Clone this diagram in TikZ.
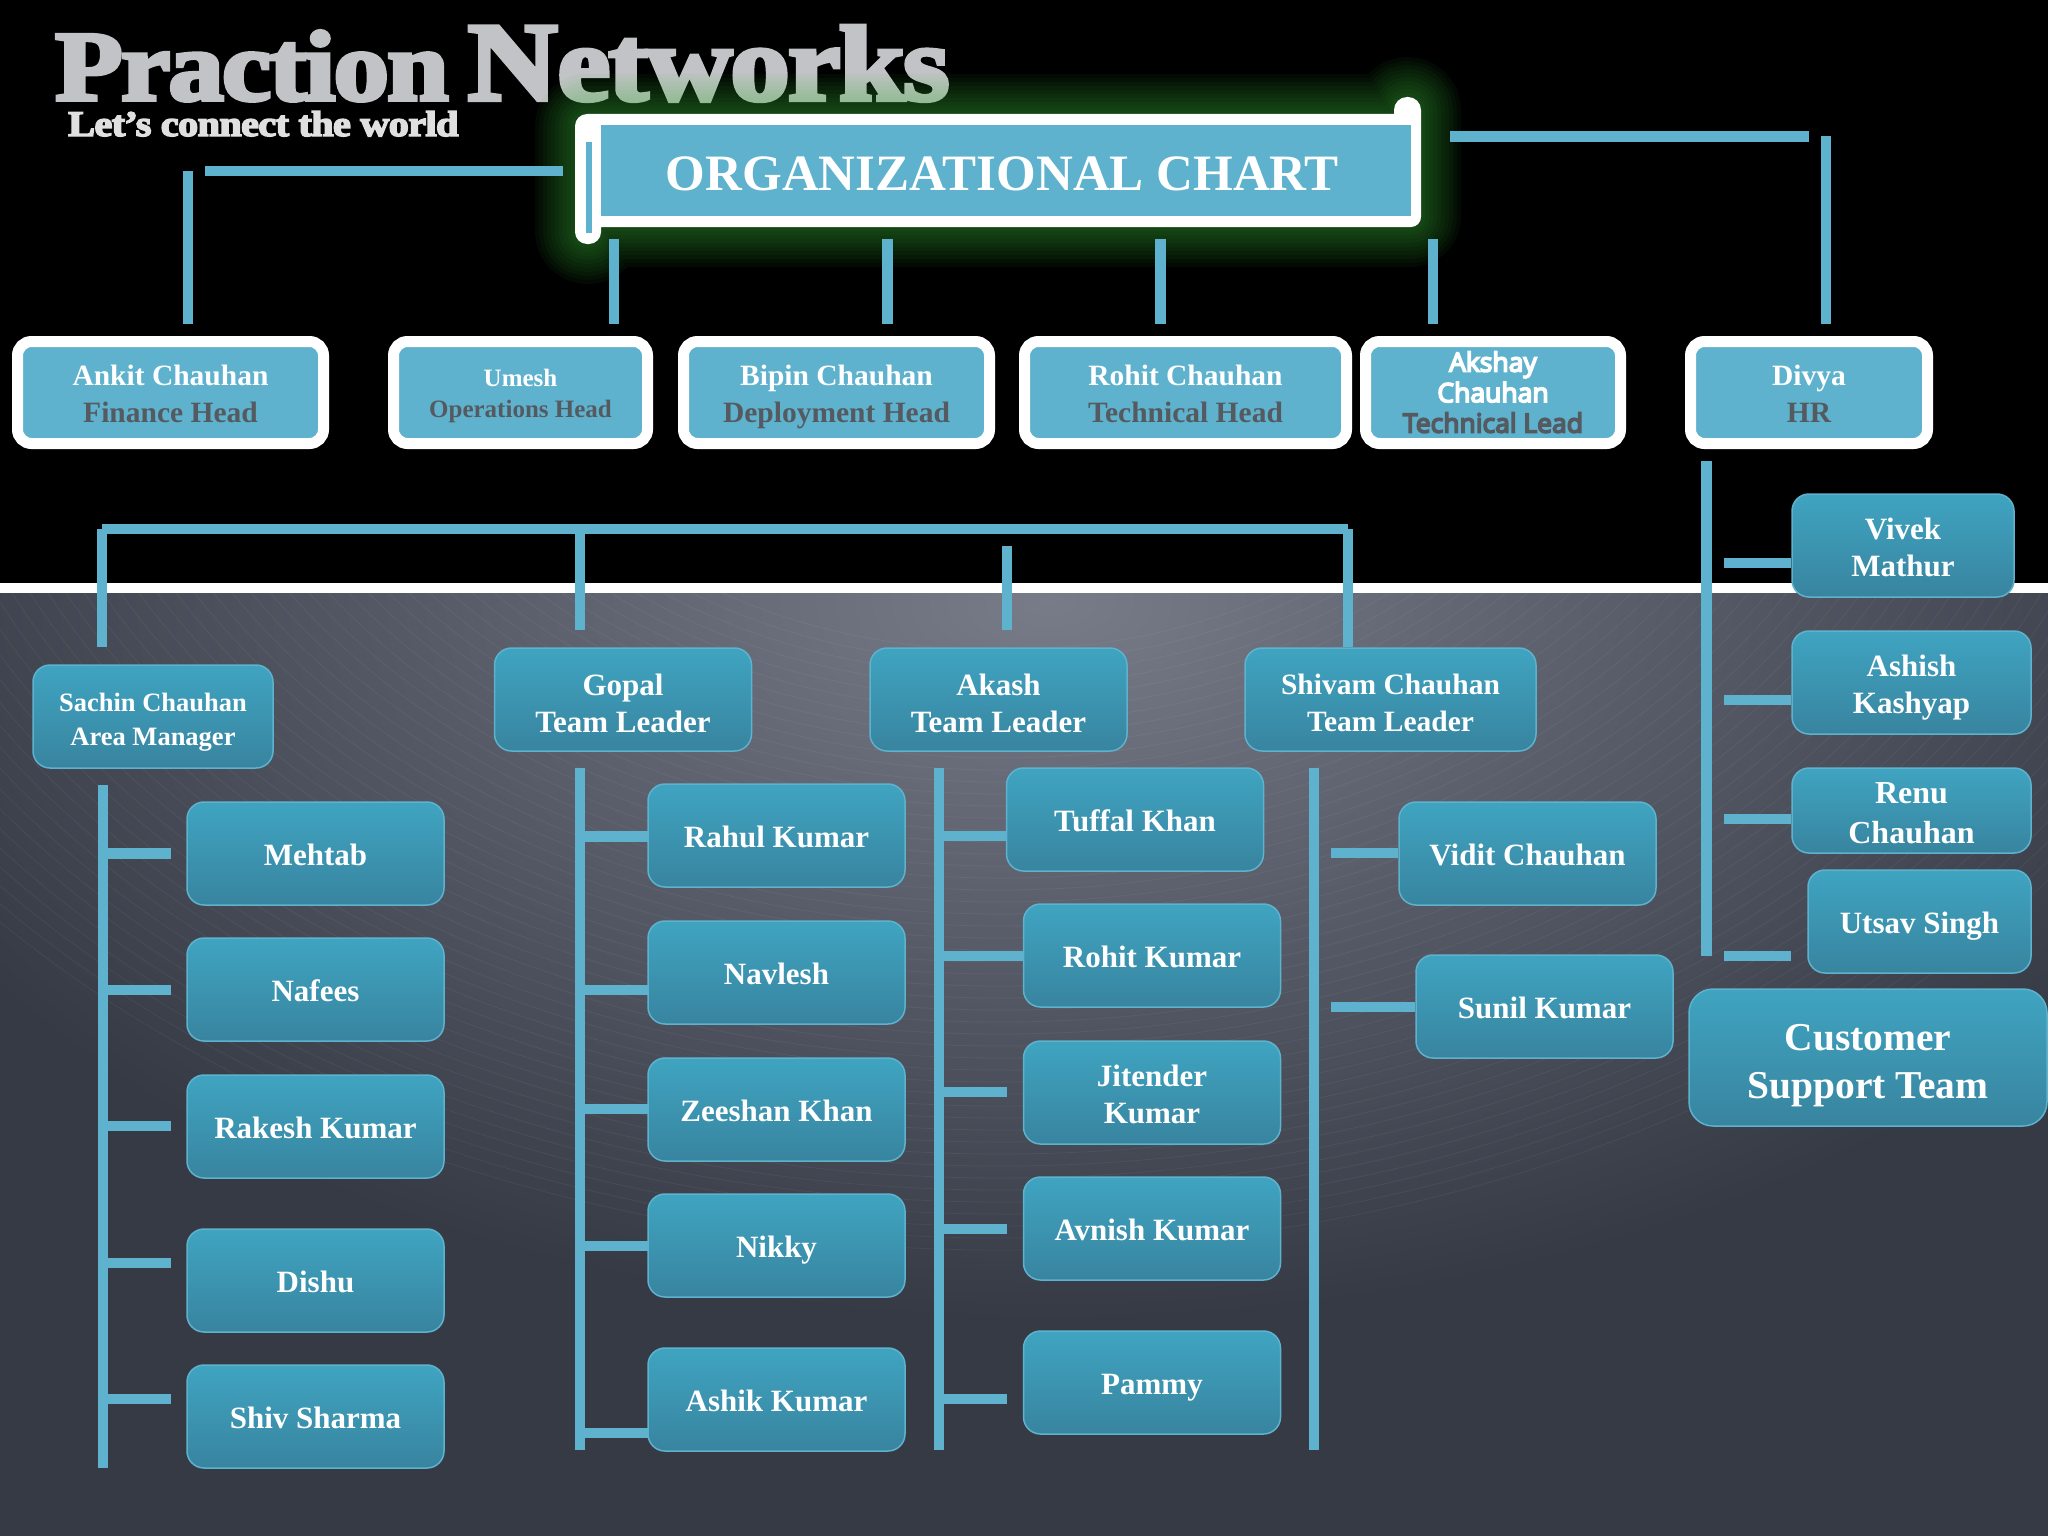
\documentclass[tikz,border=0pt]{standalone}
\usepackage{fontspec}
\usepackage{xcolor}
\setmainfont{Liberation Serif}
\newfontfamily\logofont[UprightFont=* Bold,FakeBold=4,LetterSpace=-1.5]{Liberation Serif}
\newfontfamily\akshayfont[FakeBold=6]{Open Sans}
\definecolor{lineblue}{HTML}{5EB2CD}
\definecolor{boxtop}{HTML}{3FA4C1}
\definecolor{boxbottom}{HTML}{38849F}
\definecolor{rolegray}{HTML}{555A60}
\definecolor{logogray}{HTML}{C2C3C6}
\definecolor{glowgreen}{HTML}{3CB43C}
\definecolor{bgdark}{HTML}{353A45}
\definecolor{bglight}{HTML}{787B88}
\newcommand{\scrollpath}{[rounded corners=12pt] (590,114) -- (575,114) -- (575,244) -- (601,244) [sharp corners] -- (601,227) [rounded corners=10pt] -- (1421,227) [rounded corners=13pt] -- (1421,97) -- (1394,97) [sharp corners] -- (1394,114) -- cycle}
\newcommand{\textstrut}{\rule[-0.27em]{0pt}{1.32em}}
\newcommand{\firststrut}[1][1.15em]{\rule{0pt}{#1}}
\begin{document}
\begin{tikzpicture}[x=1pt, y=-1pt,
  bar/.style={draw=lineblue, line width=10.5pt},
  textrule/.style={execute at begin node=\textstrut, execute at end node=\textstrut},
  headbox/.style={textrule, draw=white, line width=11pt, fill=lineblue, rounded corners=14pt, minimum height=102pt, align=center, inner sep=0pt, text=white, font=\bfseries\fontsize{29.5}{36.5}\selectfont},
  teambox/.style={textrule, draw=lineblue, line width=1.5pt, top color=boxtop, bottom color=boxbottom, rounded corners=17pt, minimum width=257pt, minimum height=103pt, align=center, inner sep=0pt, text=white, font=\bfseries\fontsize{31}{37}\selectfont}]
\useasboundingbox (0,0) rectangle (2048,1536);

% backdrop
\fill[black] (0,0) rectangle (2048,1536);
\fill[bgdark] (0,593) rectangle (2048,1536);
\begin{scope}
\clip (0,593) rectangle (2048,1536);
\shade[inner color=bglight, outer color=bgdark] (1050,600) ellipse (1250 and 720);
\foreach \r in {400,412,...,1010}
  \draw[white, opacity=0.05, line width=0.8pt] (1000,250) ellipse ({1.35*\r} and \r);
\end{scope}
\fill[white] (0,583) rectangle (2048,593);

% logo
\node[anchor=base west, inner sep=0pt, xscale=1.11, transform shape, text=logogray, font=\logofont\fontsize{99.5}{101}\selectfont] (logo) at (55,100) {Praction\kern-6pt\ {\fontsize{112}{112}\selectfont N}{\fontsize{107}{107}\selectfont etworks}};
\node[anchor=base west, inner sep=0pt, xscale=1.117, transform shape, text=white!88!black, font=\logofont\fontsize{36}{36}\selectfont] (slogan) at (68,136) {Let’s connect the world};

% title scroll
\foreach \w in {8,16,...,80}
  \draw[glowgreen, line width=\w pt, opacity=0.05, line join=round] \scrollpath;
\fill[white] \scrollpath;
\node[textrule, fill=lineblue, minimum width=810pt, minimum height=91pt, inner sep=0pt, outer sep=0pt, text=white, font=\bfseries\fontsize{51}{60}\selectfont] (title) at (1006,170.5) {ORGANIZATIONAL CHART\kern7pt};
\draw[draw=lineblue, line width=6pt] (589,142) -- (589,233);

% heads
\node[headbox, minimum width=306pt] (ankit) at (170.5,392.5) {\firststrut[1.05em]Ankit Chauhan\\\textcolor{rolegray}{Finance Head}};
\node[headbox, minimum width=254pt, font=\bfseries\fontsize{25}{31}\selectfont] (umesh) at (520.5,392.5) {\firststrut[1.05em]Umesh\\\textcolor{rolegray}{Operations Head}};
\node[headbox, minimum width=306pt] (bipin) at (836.5,392.5) {\firststrut[1.05em]Bipin Chauhan\\\textcolor{rolegray}{Deployment Head}};
\node[headbox, minimum width=322pt] (rohit) at (1185.5,392.5) {\firststrut[1.05em]Rohit Chauhan\\\textcolor{rolegray}{Technical Head}};
\node[headbox, minimum width=255pt, font=\akshayfont\fontsize{26.5}{30.5}\selectfont] (akshay) at (1493,392.5) {\firststrut[1.0em]Akshay\\Chauhan\\\textcolor{rolegray}{Technical Lead}};
\node[headbox, minimum width=237pt] (divya) at (1809,392.5) {\firststrut[1.05em]Divya\\\textcolor{rolegray}{HR}};

% area manager and team leaders
\node[teambox, minimum width=240pt, font=\bfseries\fontsize{26.5}{34}\selectfont] (sachin) at (153,716.5) {\firststrut Sachin Chauhan\\Area Manager};
\node[teambox] (gopal) at (623,699.5) {\firststrut[1.2em]Gopal\\Team Leader};
\node[teambox] (akash) at (998.5,699.5) {\firststrut[1.2em]Akash\\Team Leader};
\node[teambox, minimum width=291pt, font=\bfseries\fontsize{29.5}{37}\selectfont] (shivam) at (1390.5,699.5) {\firststrut[1.2em]Shivam Chauhan\\Team Leader};

% staff under sachin
\node[teambox] (mehtab) at (315.5,853.5) {Mehtab};
\node[teambox] (nafees) at (315.5,989.5) {Nafees};
\node[teambox] (rakesh) at (315.5,1126.5) {Rakesh Kumar};
\node[teambox] (dishu) at (315.5,1280.5) {Dishu};
\node[teambox] (shiv) at (315.5,1416.5) {Shiv Sharma};

% staff under gopal
\node[teambox] (rahul) at (776.5,835.5) {Rahul Kumar};
\node[teambox] (navlesh) at (776.5,972.5) {Navlesh};
\node[teambox] (zeeshan) at (776.5,1109.5) {Zeeshan Khan};
\node[teambox] (nikky) at (776.5,1245.5) {Nikky};
\node[teambox] (ashik) at (776.5,1399.5) {Ashik Kumar};

% staff under akash
\node[teambox] (tuffal) at (1135,819.5) {Tuffal Khan};
\node[teambox] (rohitk) at (1152,955.5) {Rohit Kumar};
\node[teambox] (jitender) at (1152,1092.5) {\firststrut[1.1em]Jitender\\Kumar};
\node[teambox] (avnish) at (1152,1228.5) {Avnish Kumar};
\node[teambox] (pammy) at (1152,1382.5) {Pammy};

% staff under shivam
\node[teambox] (vidit) at (1527.5,853.5) {Vidit Chauhan};
\node[teambox] (sunil) at (1544.5,1006.5) {Sunil Kumar};

% staff under divya
\node[teambox, minimum width=222pt] (vivek) at (1903,545.5) {\firststrut[1.1em]Vivek\\Mathur};
\node[teambox, minimum width=239pt] (ashish) at (1911.5,682.5) {\firststrut[1.1em]Ashish\\Kashyap};
\node[teambox, minimum width=239pt, minimum height=85pt, font=\bfseries\fontsize{32}{40}\selectfont] (renu) at (1911.5,810.5) {\firststrut[1.1em]Renu\\Chauhan};
\node[teambox, minimum width=223pt] (utsav) at (1919.5,921.5) {Utsav Singh};
\node[teambox, minimum width=358pt, minimum height=137pt, rounded corners=24pt, font=\bfseries\fontsize{39.5}{48}\selectfont] (support) at (1868,1057.5) {\firststrut Customer\\Support Team};

% lines from the title down to the heads
\coordinate (dropankit) at (188,171);
\coordinate (dropumesh) at (614,0);
\coordinate (dropbipin) at (887.5,0);
\coordinate (droprohit) at (1160.5,0);
\coordinate (dropakshay) at (1433,0);
\coordinate (dropdivya) at (1826,136);
\coordinate (armleft) at (205,171);
\coordinate (armleftend) at (563,171);
\coordinate (armright) at (1450,136.5);
\coordinate (armrightend) at (1809,136.5);
\draw[bar] (armleft) -- (armleftend);
\draw[bar] (armright) -- (armrightend);
\draw[bar, shorten >=12pt] (dropankit) -- (dropankit |- ankit.north);
\draw[bar, shorten <=23pt, shorten >=12pt] (dropumesh |- title.south) -- (dropumesh |- umesh.north);
\draw[bar, shorten <=23pt, shorten >=12pt] (dropbipin |- title.south) -- (dropbipin |- bipin.north);
\draw[bar, shorten <=23pt, shorten >=12pt] (droprohit |- title.south) -- (droprohit |- rohit.north);
\draw[bar, shorten <=23pt, shorten >=12pt] (dropakshay |- title.south) -- (dropakshay |- akshay.north);
\draw[bar, shorten >=12pt] (dropdivya) -- (dropdivya |- divya.north);

% lines to the area manager and team leaders
\coordinate (railleft) at (102,529);
\coordinate (railright) at (1348,529);
\coordinate (railgopal) at (580,529);
\coordinate (railakash) at (1007,546);
\draw[bar] (railleft) -- (railright);
\draw[bar, shorten >=17pt] (railleft) -- (railleft |- sachin.north);
\draw[bar, shorten >=17pt] (railgopal) -- (railgopal |- gopal.north);
\draw[bar, shorten >=17pt] (railakash) -- (railakash |- akash.north);
\draw[bar] (railright) -- (railright |- shivam.north);

% sachin spine and ticks
\coordinate (spinesachin) at (103,785);
\coordinate (spinesachinend) at (103,1468);
\coordinate (tickmehtab) at (170.5,853.5);
\coordinate (ticknafees) at (170.5,990);
\coordinate (tickrakesh) at (170.5,1126);
\coordinate (tickdishu) at (170.5,1263);
\coordinate (tickshiv) at (170.5,1399);
\draw[bar] (spinesachin) -- (spinesachinend);
\draw[bar] (spinesachin |- tickmehtab) -- (tickmehtab);
\draw[bar] (spinesachin |- ticknafees) -- (ticknafees);
\draw[bar] (spinesachin |- tickrakesh) -- (tickrakesh);
\draw[bar] (spinesachin |- tickdishu) -- (tickdishu);
\draw[bar] (spinesachin |- tickshiv) -- (tickshiv);

% gopal spine and ticks
\coordinate (spinegopal) at (580,768);
\coordinate (spinegopalend) at (580,1450);
\coordinate (tickrahul) at (649,836.5);
\coordinate (ticknavlesh) at (649,990);
\coordinate (tickzeeshan) at (649,1109);
\coordinate (ticknikky) at (649,1246);
\coordinate (tickashik) at (649,1433);
\draw[bar] (spinegopal) -- (spinegopalend);
\draw[bar] (spinegopal |- tickrahul) -- (tickrahul);
\draw[bar] (spinegopal |- ticknavlesh) -- (ticknavlesh);
\draw[bar] (spinegopal |- tickzeeshan) -- (tickzeeshan);
\draw[bar] (spinegopal |- ticknikky) -- (ticknikky);
\draw[bar] (spinegopal |- tickashik) -- (tickashik);

% akash spine and ticks
\coordinate (spineakash) at (939,768);
\coordinate (spineakashend) at (939,1450);
\coordinate (ticktuffal) at (1007,836);
\coordinate (tickrohitk) at (1024,956);
\coordinate (tickjitender) at (1007,1092);
\coordinate (tickavnish) at (1007,1229);
\coordinate (tickpammy) at (1007,1399);
\draw[bar] (spineakash) -- (spineakashend);
\draw[bar] (spineakash |- ticktuffal) -- (ticktuffal);
\draw[bar] (spineakash |- tickrohitk) -- (tickrohitk);
\draw[bar] (spineakash |- tickjitender) -- (tickjitender);
\draw[bar] (spineakash |- tickavnish) -- (tickavnish);
\draw[bar] (spineakash |- tickpammy) -- (tickpammy);

% shivam spine and ticks
\coordinate (spineshivam) at (1314,768);
\coordinate (spineshivamend) at (1314,1450);
\coordinate (tickvidit) at (1331,853);
\coordinate (ticksunil) at (1331,1007);
\draw[bar] (spineshivam) -- (spineshivamend);
\draw[bar] (ticksunil) -- (ticksunil -| sunil.west);
\draw[bar] (tickvidit) -- (tickvidit -| vidit.west);

% divya spine and ticks
\coordinate (spinedivya) at (1706.5,461);
\coordinate (spinedivyaend) at (1706.5,956);
\coordinate (tickvivek) at (1724,563);
\coordinate (tickashish) at (1724,700);
\coordinate (tickrenu) at (1724,819);
\coordinate (tickutsav) at (1724,956);
\draw[bar] (spinedivya) -- (spinedivyaend);
\draw[bar] (tickvivek) -- (tickvivek -| vivek.west);
\draw[bar] (tickashish) -- (tickashish -| ashish.west);
\draw[bar] (tickrenu) -- (tickrenu -| renu.west);
\draw[bar] (tickutsav) -- (tickutsav -| renu.west);
\end{tikzpicture}
\end{document}
